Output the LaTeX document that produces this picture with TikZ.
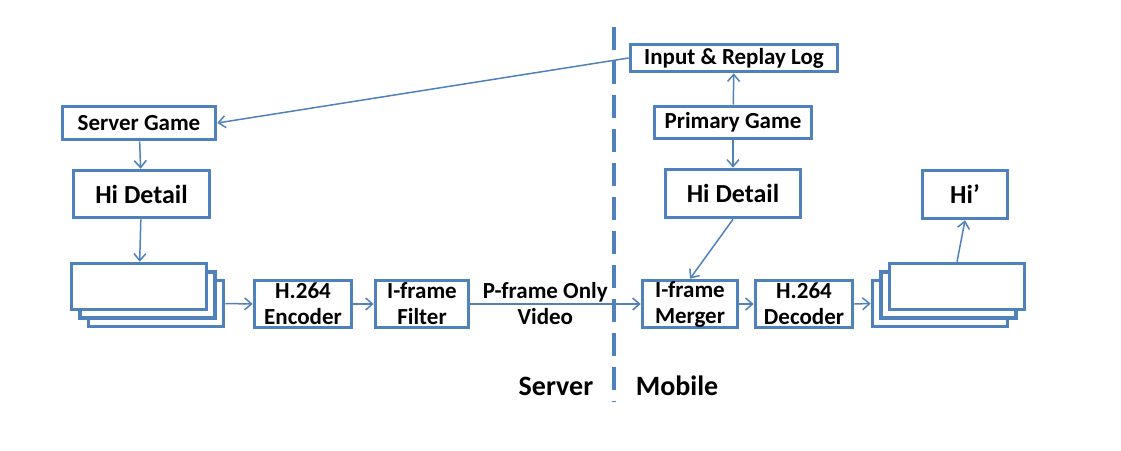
\documentclass[tikz,border=0pt]{standalone}
\usepackage{fontspec}
\setmainfont{Carlito}
\usetikzlibrary{arrows.meta}
\definecolor{boxblue}{HTML}{4F81BD}

\begin{document}
\begin{tikzpicture}[x=1pt,y=-1pt,->,>={Straight Barb[length=7pt,width=12pt]},draw=boxblue,line width=1.5pt]
    \tikzstyle{block}=[draw=boxblue,line width=3.6pt,inner sep=0pt,align=center,font=\fontsize{23}{26}\selectfont\bfseries]
    \tikzstyle{big block}=[block,font=\fontsize{26}{30}\selectfont\bfseries]
    \tikzstyle{frame}=[block,fill=white,minimum width=135pt,minimum height=46pt]
    \tikzstyle{side}=[font=\fontsize{28}{32}\selectfont\bfseries]
    \useasboundingbox (0,0) rectangle (1121,450);

    % Server side
    \node[block,minimum width=153pt,minimum height=33pt] (sg) at (139,123) {Server Game};
    \node[big block,minimum width=136pt,minimum height=47pt] (hdl) at (141.5,194) {Hi Detail};
    % Draw the frame stack, back to front
    \foreach \i in {3,2,1}
        \node[frame] (fl-\i) at ({139+8.5*(\i-1)},{286.5+8.5*(\i-1)}) {};
    \node[block,minimum width=97pt,minimum height=47pt] (enc) at (303,304) {H.264\\Encoder};
    \node[block,minimum width=93pt,minimum height=47pt] (ifl) at (422,304) {I-frame\\Filter};

    % Mobile side
    \node[block,minimum width=207pt,minimum height=27pt] (log) at (734,58) {Input \& Replay Log};
    \node[block,minimum width=157pt,minimum height=32pt] (pg) at (733,122.5) {Primary Game};
    \node[big block,minimum width=135pt,minimum height=48pt] (hdr) at (733,193.5) {Hi Detail};
    \node[big block,minimum width=85pt,minimum height=48pt] (hip) at (965,194.5) {Hi’};
    \node[block,minimum width=95pt,minimum height=47pt] (mrg) at (690,304) {I-frame\\Merger};
    \node[block,minimum width=97pt,minimum height=47pt] (dec) at (804,304) {H.264\\Decoder};
    \foreach \i in {3,2,1}
        \node[frame] (fr-\i) at ({957-8.5*(\i-1)},{286.5+8.5*(\i-1)}) {};

    % Connect the blocks
    \draw (sg) -- (hdl);
    \draw (hdl) -- (fl-1);
    \draw (fl-3.east) -- (enc.west);
    \draw (enc) -- (ifl);
    \draw (ifl.east) -- node[pos=0.44,align=center,font=\fontsize{23}{26}\selectfont\bfseries] {P-frame Only\\Video} (mrg.west);
    \draw (log.west) -- (sg.east);
    \draw (pg) -- (log);
    \draw (pg) -- (hdr);
    \draw (hdr.south) -- (mrg.north);
    \draw (mrg) -- (dec);
    \draw (dec.east) -- (fr-3.west);
    \draw (fr-1.north) -- (hip.south);

    % Divider and side labels
    \draw[-,line width=4pt,dash pattern=on 23pt off 11pt] (614,27) -- (614,402);
    \node[side] (server) at (556,386) {Server};
    \node[side] (mobile) at (677,386) {Mobile};
\end{tikzpicture}
\end{document}
